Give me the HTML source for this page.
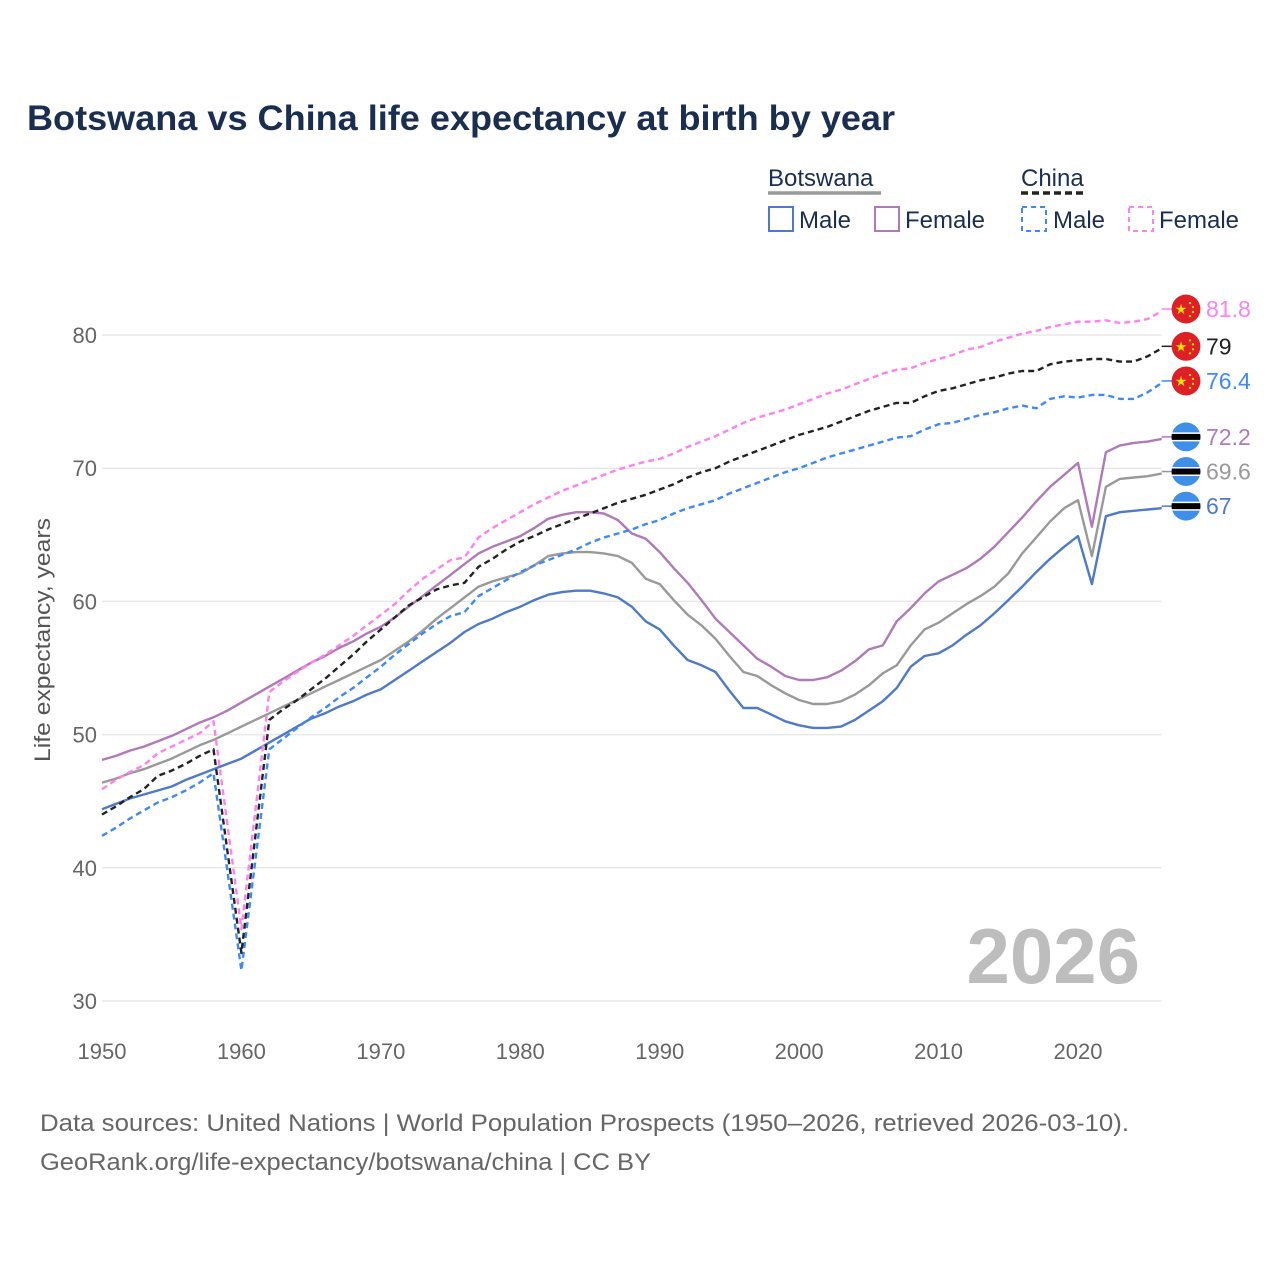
<!DOCTYPE html>
<html><head><meta charset="utf-8"><style>
html,body{margin:0;padding:0;background:#fff;}
svg{display:block;font-family:"Liberation Sans",sans-serif;}
</style></head><body>
<svg id="chart" width="1280" height="1280" viewBox="0 0 1280 1280">
<defs><clipPath id="cc"><circle cx="0" cy="0" r="14.5"/></clipPath></defs>
<text x="27" y="130" font-size="35" font-weight="bold" fill="#1a2e4f" textLength="868" lengthAdjust="spacingAndGlyphs">Botswana vs China life expectancy at birth by year</text>
<g>
<text x="768" y="186" font-size="24" fill="#1a2e4f">Botswana</text>
<line x1="768" y1="193" x2="881" y2="193" stroke="#999" stroke-width="3.5"/>
<text x="1021" y="186" font-size="24" fill="#1a2e4f">China</text>
<line x1="1021" y1="193" x2="1087" y2="193" stroke="#222" stroke-width="3.5" stroke-dasharray="7,4"/>
<g><rect x="769" y="207" width="24" height="24" fill="none" stroke="#4e7ac7" stroke-width="2"/><text x="799" y="228" font-size="24" fill="#1a2e4f">Male</text></g>
<g><rect x="875" y="207" width="24" height="24" fill="none" stroke="#b07ab8" stroke-width="2"/><text x="905" y="228" font-size="24" fill="#1a2e4f">Female</text></g>
<g><rect x="1022" y="207" width="24" height="24" fill="none" stroke="#3d8af7" stroke-width="2" stroke-dasharray="5,4"/><text x="1053" y="228" font-size="24" fill="#1a2e4f">Male</text></g>
<g><rect x="1129" y="207" width="24" height="24" fill="none" stroke="#ff80f0" stroke-width="2" stroke-dasharray="5,4"/><text x="1159" y="228" font-size="24" fill="#1a2e4f">Female</text></g>
</g>
<g id="grid"></g>
<text x="1140" y="983" font-size="78" font-weight="bold" fill="#bdbdbd" text-anchor="end">2026</text>
<g id="plot"></g>
<g id="ends"></g>
<text transform="translate(50,640) rotate(-90)" font-size="22" fill="#555" text-anchor="middle" textLength="244" lengthAdjust="spacingAndGlyphs">Life expectancy, years</text>
<text x="40" y="1131" font-size="24" fill="#666" textLength="1089" lengthAdjust="spacingAndGlyphs">Data sources: United Nations | World Population Prospects (1950–2026, retrieved 2026-03-10).</text>
<text x="40" y="1170" font-size="24" fill="#666" textLength="611" lengthAdjust="spacingAndGlyphs">GeoRank.org/life-expectancy/botswana/china | CC BY</text>
</svg>
<script>
const yearStart = 1950;
const xTicks = [1950,1960,1970,1980,1990,2000,2010,2020];
const yTicks = [30,40,50,60,70,80];
const botswanaFemale = [48.1,48.4,48.8,49.1,49.5,49.9,50.4,50.9,51.3,51.8,52.4,53.0,53.6,54.2,54.8,55.4,55.9,56.5,57.0,57.6,58.1,58.8,59.6,60.4,61.2,62.0,62.8,63.6,64.1,64.5,
64.9,65.5,66.2,66.5,66.7,66.7,66.6,66.1,65.1,64.7,63.7,62.5,61.4,60.1,58.7,57.7,56.7,55.7,55.1,54.4,54.1,54.1,54.3,54.8,55.5,56.4,56.7,58.5,59.5,60.6,61.5,62.0,62.5,63.2,64.1,65.2,66.3,67.5,68.6,69.5,70.4,65.6,71.2,71.7,71.9,72.0,72.2];
const botswanaTotal = [46.4,46.7,47.1,47.4,47.8,48.2,48.7,49.2,49.6,50.1,50.6,51.1,51.6,52.1,52.6,53.1,53.6,54.1,54.6,55.1,55.6,56.3,57.0,57.8,58.7,59.5,60.3,61.1,61.5,61.8,
62.1,62.7,63.4,63.6,63.7,63.7,63.6,63.4,62.9,61.7,61.3,60.1,59.0,58.2,57.2,55.9,54.7,54.4,53.7,53.1,52.6,52.3,52.3,52.5,53.0,53.7,54.6,55.2,56.7,57.9,58.4,59.1,59.8,60.4,61.1,62.1,63.6,64.8,66.0,67.0,67.6,63.4,68.6,69.2,69.3,69.4,69.6];
const botswanaMale = [44.4,44.8,45.2,45.5,45.8,46.1,46.6,47.0,47.4,47.8,48.2,48.8,49.4,50.0,50.6,51.2,51.6,52.1,52.5,53.0,53.4,54.1,54.8,55.5,56.2,56.9,57.7,58.3,58.7,59.2,
59.6,60.1,60.5,60.7,60.8,60.8,60.6,60.3,59.6,58.5,57.9,56.7,55.6,55.2,54.7,53.3,52.0,52.0,51.5,51.0,50.7,50.5,50.5,50.6,51.1,51.8,52.5,53.5,55.1,55.9,56.1,56.7,57.5,58.2,59.1,60.1,61.1,62.2,63.2,64.1,64.9,61.3,66.4,66.7,66.8,66.9,67.0];
const chinaFemale = [45.9,46.6,47.2,47.7,48.6,49.1,49.6,50.1,51.0,43.2,35.4,44.3,53.2,54.0,54.7,55.4,56.0,56.7,57.4,58.2,59.0,59.8,60.8,61.7,62.4,63.1,63.3,64.8,65.5,66.1,
66.7,67.3,67.8,68.3,68.7,69.1,69.5,69.9,70.2,70.5,70.7,71.1,71.6,72.0,72.4,72.9,73.4,73.8,74.1,74.4,74.8,75.2,75.6,75.9,76.3,76.7,77.1,77.4,77.5,77.9,78.2,78.5,78.9,79.1,79.5,79.8,80.1,80.3,80.6,80.8,81.0,81.0,81.1,80.9,81.0,81.2,81.8];
const chinaTotal = [44.0,44.6,45.3,45.9,46.9,47.3,47.8,48.4,48.9,41.2,33.6,42.4,51.1,51.9,52.6,53.4,54.2,55.1,56.0,57.0,57.9,58.8,59.7,60.3,60.9,61.2,61.4,62.6,63.2,63.9,
64.5,64.9,65.4,65.8,66.2,66.6,67.0,67.4,67.7,68.0,68.4,68.8,69.3,69.7,70.0,70.5,70.9,71.3,71.7,72.1,72.5,72.8,73.1,73.5,73.9,74.3,74.6,74.9,74.9,75.4,75.8,76.0,76.3,76.6,76.8,77.1,77.3,77.3,77.8,78.0,78.1,78.2,78.2,78.0,78.0,78.4,79.0];
const chinaMale = [42.4,43.0,43.7,44.3,44.9,45.3,45.8,46.4,47.1,39.7,32.3,40.6,48.9,49.7,50.5,51.3,52.0,52.8,53.5,54.3,55.1,56.0,56.8,57.6,58.3,58.9,59.2,60.4,61.0,61.6,
62.2,62.7,63.1,63.5,63.9,64.4,64.8,65.1,65.4,65.8,66.1,66.6,67.0,67.3,67.6,68.1,68.5,68.9,69.3,69.7,70.0,70.4,70.8,71.1,71.4,71.7,72.0,72.3,72.4,72.9,73.3,73.4,73.7,74.0,74.2,74.5,74.7,74.5,75.2,75.4,75.3,75.5,75.5,75.2,75.2,75.7,76.4];

const NS='http://www.w3.org/2000/svg';
const X0=102, X1=1078, Y80=335, Y30=1001;
function xs(yr){return X0+(yr-1950)*(X1-X0)/70;}
function ys(v){return Y30-(v-30)*(Y30-Y80)/50;}
function mk(tag,attrs,parent){const e=document.createElementNS(NS,tag);for(const k in attrs)e.setAttribute(k,attrs[k]);parent.appendChild(e);return e;}
const grid=document.getElementById('grid'), plot=document.getElementById('plot'), ends=document.getElementById('ends');
const xEnd=xs(2026);
yTicks.forEach(t=>{
  const l=mk('line',{x1:X0,x2:xEnd,y1:ys(t),y2:ys(t),stroke:'#e8e8e8','stroke-width':1.5},grid);
  
  
  const tx=mk('text',{x:97,y:ys(t)+8,'font-size':22,fill:'#666','text-anchor':'end'},grid);
  tx.textContent=t;
  
  
});
xTicks.forEach(t=>{
  const tx=mk('text',{x:xs(t),y:1059,'font-size':22,fill:'#666','text-anchor':'middle'},grid);
  tx.textContent=t;
  
  
});
const series=[
 {d:botswanaMale,c:'#4e7ac7',dash:null,name:'botswana-male',flag:'bw'},
 {d:botswanaTotal,c:'#999999',dash:null,name:'botswana-total',flag:'bw'},
 {d:botswanaFemale,c:'#b07ab8',dash:null,name:'botswana-female',flag:'bw'},
 {d:chinaMale,c:'#3d8af7',dash:'6,4',name:'china-male',flag:'cn'},
 {d:chinaFemale,c:'#ff80f0',dash:'6,4',name:'china-female',flag:'cn'},
 {d:chinaTotal,c:'#222222',dash:'6,4',name:'china-total',flag:'cn'}
];
series.forEach(s=>{
  const pts=s.d.map((v,i)=>xs(yearStart+i).toFixed(1)+','+ys(v).toFixed(1)).join(' ');
  const a={points:pts,fill:'none',stroke:s.c,'stroke-width':2.4,'stroke-linejoin':'round'};
  if(s.dash)a['stroke-dasharray']=s.dash;
  const p=mk('polyline',a,plot);
  
  
  const last=s.d[s.d.length-1], y=ys(last)-2, cx=1186;
  mk('line',{x1:xEnd,x2:cx-12,y1:y,y2:y,stroke:s.c,'stroke-width':1.5},ends);
  const g=mk('g',{transform:'translate('+cx+','+y+')'},ends);
  
  
  const inner=mk('g',{'clip-path':'url(#cc)'},g);
  if(s.flag==='cn'){
    mk('circle',{cx:0,cy:0,r:14.5,fill:'#de1f26'},inner);
    mk('text',{x:-5,y:5,'font-size':14,fill:'#ffde00','text-anchor':'middle'},inner).textContent='★';
    mk('circle',{cx:4,cy:-6,r:1.2,fill:'#ffde00'},inner);
    mk('circle',{cx:7,cy:-2,r:1.2,fill:'#ffde00'},inner);
    mk('circle',{cx:7,cy:3,r:1.2,fill:'#ffde00'},inner);
    mk('circle',{cx:4,cy:7,r:1.2,fill:'#ffde00'},inner);
  } else {
    mk('circle',{cx:0,cy:0,r:14.5,fill:'#3d8fe8'},inner);
    mk('rect',{x:-15,y:-4.5,width:30,height:9,fill:'#fff'},inner);
    mk('rect',{x:-15,y:-3,width:30,height:6,fill:'#000'},inner);
  }
  const t=mk('text',{x:1206,y:y+8,'font-size':23,fill:s.c},ends);
  t.textContent=String(last);
  
  
});
</script>
</body></html>
